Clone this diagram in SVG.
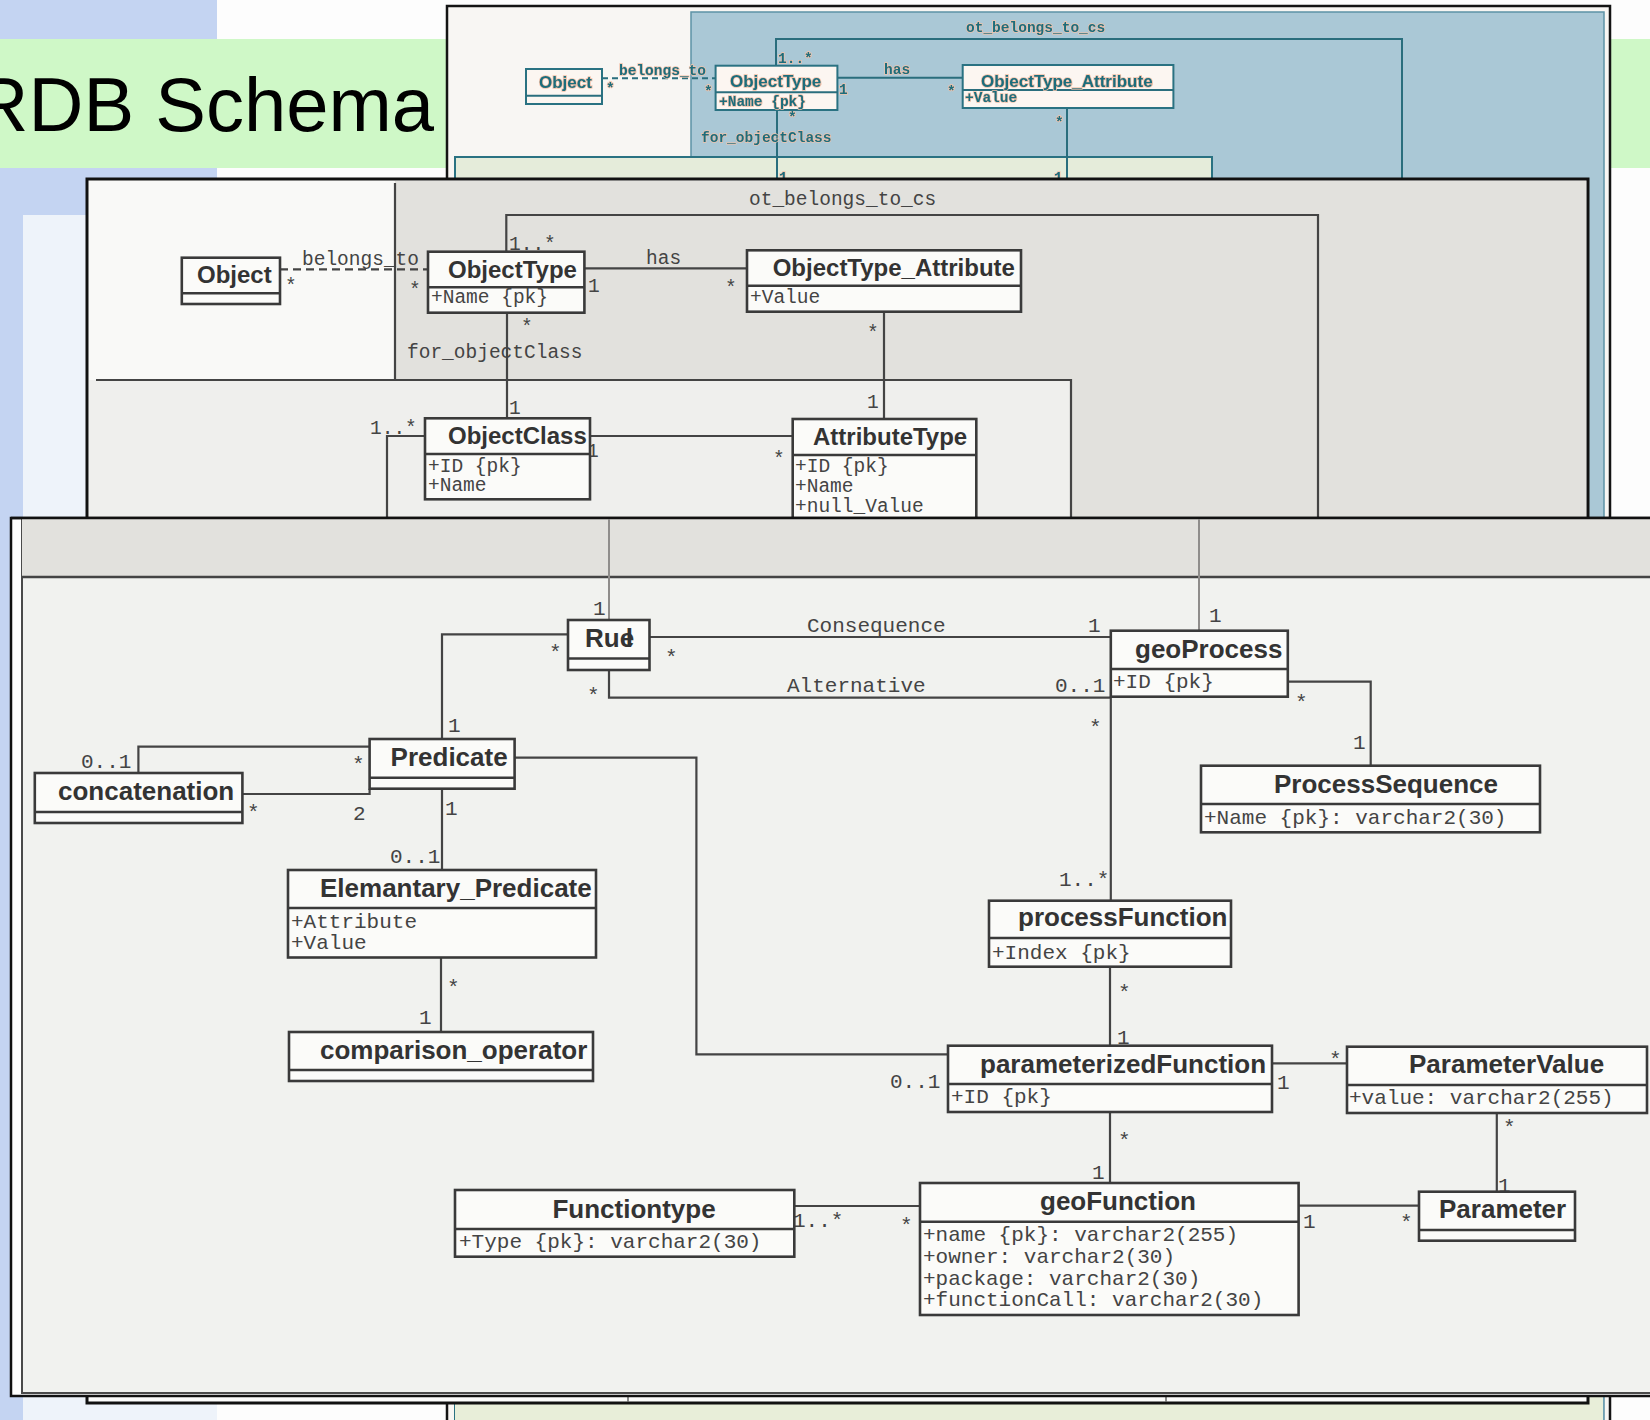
<svg xmlns="http://www.w3.org/2000/svg" width="1650" height="1420" viewBox="0 0 1650 1420">
<defs>
  <filter id="soft" x="-5%" y="-5%" width="110%" height="110%">
    <feGaussianBlur stdDeviation="0.6"/>
  </filter>
</defs>
<style>
  .bx{fill:#fbfbf9}
  .bd{fill:none;stroke:#3a3a3a;stroke-width:2.6}
  .dv{stroke:#3a3a3a;stroke-width:2.6}
  .tf{font-family:"Liberation Sans",Arial,sans-serif;font-weight:bold;font-size:26px;fill:#333}
  .tm{font-family:"Liberation Sans",Arial,sans-serif;font-weight:bold;font-size:24px;fill:#333}
  .mf{font-family:"Liberation Mono","Courier New",monospace;font-size:21px;fill:#444}
  .mm{font-family:"Liberation Mono","Courier New",monospace;font-size:19.5px;fill:#444}
  .cn{fill:none;stroke:#444;stroke-width:2.2}
  .cg{fill:none;stroke:#8f8d8b;stroke-width:2}
  .dash{stroke-dasharray:8 5}
  .bkbox{fill:#fcf6f1;stroke:#2c7282;stroke-width:2}
  .bkln{fill:none;stroke:#2a6e7d;stroke-width:2}
  .bkt{font-family:"Liberation Sans",Arial,sans-serif;font-weight:bold;font-size:17px;fill:#1f6d7c;stroke:#f3c2aa;stroke-width:1.6;paint-order:stroke}
  .bkm{font-family:"Liberation Mono","Courier New",monospace;font-weight:bold;font-size:14.5px;fill:#1f6d7c;stroke:#f3c2aa;stroke-width:1.4;paint-order:stroke}
</style>

<!-- page background -->
<rect x="0" y="0" width="1650" height="1420" fill="#fdfdfd"/>
<rect x="0" y="0" width="217" height="215" fill="#c4d4f2"/>
<rect x="0" y="0" width="23" height="1420" fill="#c4d4f2"/>
<rect x="23" y="215" width="194" height="1205" fill="#eef3fa"/>
<rect x="0" y="39" width="1650" height="129" fill="#cff8c7"/>
<text x="434" y="131" text-anchor="end" font-family="'Liberation Sans',Arial,sans-serif" font-size="76" fill="#000">RDB Schema</text>

<!-- back window -->
<g id="back-window">
  <rect x="447" y="6" width="1163" height="1430" fill="#f8f6f3" stroke="#141414" stroke-width="2.5"/>
  <g filter="url(#soft)">
    <rect x="691" y="12" width="913" height="1420" fill="#aac8d6" stroke="#5d93a6" stroke-width="1.5"/>
    <rect x="455" y="157" width="757" height="1300" fill="#e5ecda" stroke="#2c7282" stroke-width="2"/>
    <rect x="455" y="1380" width="1148" height="60" fill="#e8eed9"/>
    <g id="back-connectors">
      <path class="bkln" d="M602,78.3 H715.6" stroke-dasharray="6 4"/>
      <path class="bkln" d="M837.4,77.7 H962.7"/>
      <path class="bkln" d="M776,65.7 V39 H1402 V190"/>
      <path class="bkln" d="M777,110 V190"/>
      <path class="bkln" d="M1067,108 V190"/>
      <text class="bkm" x="966" y="32">ot_belongs_to_cs</text>
      <text class="bkm" x="778" y="63">1..*</text>
      <text class="bkm" x="619" y="75">belongs_to</text>
      <text class="bkm" x="606" y="93">*</text>
      <text class="bkm" x="704" y="96">*</text>
      <text class="bkm" x="884" y="74">has</text>
      <text class="bkm" x="839" y="94">1</text>
      <text class="bkm" x="947" y="96">*</text>
      <text class="bkm" x="788" y="122">*</text>
      <text class="bkm" x="701" y="142">for_objectClass</text>
      <text class="bkm" x="1055" y="127">*</text>
      <text class="bkm" x="779" y="182">1</text>
      <text class="bkm" x="1054" y="182">1</text>
    </g>
    <g id="back-object">
      <rect class="bkbox" x="526" y="69" width="76" height="35"/>
      <line class="bkln" x1="526" y1="95.7" x2="602" y2="95.7"/>
      <text class="bkt" x="539" y="88">Object</text>
    </g>
    <g id="back-objecttype">
      <rect class="bkbox" x="715.6" y="65.7" width="121.8" height="44.3"/>
      <line class="bkln" x1="715.6" y1="92.3" x2="837.4" y2="92.3"/>
      <text class="bkt" x="730" y="87">ObjectType</text>
      <text class="bkm" x="719" y="106">+Name {pk}</text>
    </g>
    <g id="back-objecttype-attribute">
      <rect class="bkbox" x="962.7" y="65" width="210.7" height="43"/>
      <line class="bkln" x1="962.7" y1="90" x2="1173.4" y2="90"/>
      <text class="bkt" x="981" y="86.5">ObjectType_Attribute</text>
      <text class="bkm" x="965" y="102">+Value</text>
    </g>
  </g>
</g>

<!-- middle window -->
<g id="middle-window">
  <rect x="87" y="179" width="1501" height="1224" fill="#fcfcfb" stroke="#111" stroke-width="3"/>
  <rect x="89" y="181" width="306" height="199" fill="#f9f9f7"/>
  <path d="M395,181 H1586 V1395 H1071 V380 H395 Z" fill="#e2e1dd"/>
  <rect x="89" y="380" width="982" height="1015" fill="#efefed"/>
  <path class="cn" d="M395,183 V380 M96,380 H1071 V1395"/>
  <path d="M628,1390 V1402 M1166,1390 V1402" stroke="#666" stroke-width="1.5"/>

  <g id="middle-connectors">
    <path class="cn dash" d="M280,269.3 H428"/>
    <path class="cn" d="M584.4,268.3 H747"/>
    <path class="cn" d="M506.3,251.7 V215 H1318 V525"/>
    <path class="cn" d="M507,312.7 V418.3"/>
    <path class="cn" d="M884,311.7 V419"/>
    <path class="cn" d="M590,436 H792.7"/>
    <path class="cn" d="M425,436 H387 V525"/>
    <text class="mm" x="302" y="265">belongs_to</text>
    <text class="mm" x="285" y="292">*</text>
    <text class="mm" x="409" y="296">*</text>
    <text class="mm" x="646" y="264">has</text>
    <text class="mm" x="588" y="292">1</text>
    <text class="mm" x="725" y="294">*</text>
    <text class="mm" x="749" y="205">ot_belongs_to_cs</text>
    <text class="mm" x="509" y="250">1..*</text>
    <text class="mm" x="521" y="333">*</text>
    <text class="mm" x="407" y="358">for_objectClass</text>
    <text class="mm" x="509" y="414">1</text>
    <text class="mm" x="867" y="339">*</text>
    <text class="mm" x="867" y="408">1</text>
    <text class="mm" x="587" y="457">1</text>
    <text class="mm" x="773" y="465">*</text>
    <text class="mm" x="370" y="434">1..*</text>
  </g>

  <g id="object">
    <rect class="bx" x="181.8" y="257.7" width="98.2" height="46.3"/>
    <text class="tm" x="197" y="283">Object</text>
    <line class="dv" x1="181.8" y1="293.3" x2="280" y2="293.3"/>
    <rect class="bd" x="181.8" y="257.7" width="98.2" height="46.3"/>
  </g>
  <g id="objecttype">
    <rect class="bx" x="428" y="251.7" width="156.4" height="61"/>
    <text class="tm" x="448" y="278">ObjectType</text>
    <line class="dv" x1="428" y1="287.3" x2="584.4" y2="287.3"/>
    <text class="mm" x="431" y="303">+Name {pk}</text>
    <rect class="bd" x="428" y="251.7" width="156.4" height="61"/>
  </g>
  <g id="objecttype-attribute">
    <rect class="bx" x="747" y="250.3" width="274" height="61.4"/>
    <text class="tm" x="772.7" y="276">ObjectType_Attribute</text>
    <line class="dv" x1="747" y1="285.7" x2="1021" y2="285.7"/>
    <text class="mm" x="750" y="303">+Value</text>
    <rect class="bd" x="747" y="250.3" width="274" height="61.4"/>
  </g>
  <g id="objectclass">
    <rect class="bx" x="425" y="418.3" width="165" height="81"/>
    <text class="tm" x="448" y="444">ObjectClass</text>
    <line class="dv" x1="425" y1="454" x2="590" y2="454"/>
    <text class="mm" x="428" y="472">+ID {pk}</text>
    <text class="mm" x="428" y="491">+Name</text>
    <rect class="bd" x="425" y="418.3" width="165" height="81"/>
  </g>
  <g id="attributetype">
    <rect class="bx" x="792.7" y="419" width="183.6" height="130"/>
    <text class="tm" x="813" y="445">AttributeType</text>
    <line class="dv" x1="792.7" y1="455" x2="976.3" y2="455"/>
    <text class="mm" x="795" y="472">+ID {pk}</text>
    <text class="mm" x="795" y="492">+Name</text>
    <text class="mm" x="795" y="512">+null_Value</text>
    <rect class="bd" x="792.7" y="419" width="183.6" height="130"/>
  </g>
</g>

<!-- front window -->
<g id="front-window">
  <rect x="11" y="518" width="1700" height="878" fill="#ffffff" stroke="#111" stroke-width="2.5"/>
  <rect x="22" y="519" width="1700" height="874" fill="#f1f2ef" stroke="#4a4a4a" stroke-width="2"/>
  <rect x="22" y="519" width="1700" height="58" fill="#e2e1dd"/>
  <line x1="22" y1="577" x2="1650" y2="577" stroke="#444" stroke-width="2.5"/>
  <line x1="11" y1="518" x2="1650" y2="518" stroke="#111" stroke-width="2.5"/>

  <g id="front-connectors">
    <path class="cg" d="M609,519 V620"/>
    <path class="cg" d="M1199,519 V630.7"/>
    <path class="cn" d="M649.5,637 H1110.8"/>
    <path class="cn" d="M609,670 V697.7 H1110.8"/>
    <path class="cn" d="M1110.8,696.7 V900.7"/>
    <path class="cn" d="M1287.7,681.7 H1370.7 V765.7"/>
    <path class="cn" d="M568,634.3 H442 V739"/>
    <path class="cn" d="M138.4,773 V746.7 H369.6"/>
    <path class="cn" d="M242.4,794 H369.6 V788.7"/>
    <path class="cn" d="M442,788.7 V870"/>
    <path class="cn" d="M441,957.5 V1032"/>
    <path class="cn" d="M514.7,757.7 H696.4 V1054.3 H948"/>
    <path class="cn" d="M1110,966.7 V1045.7"/>
    <path class="cn" d="M1272,1063.3 H1347"/>
    <path class="cn" d="M1110,1112 V1183"/>
    <path class="cn" d="M1298.6,1205.7 H1419"/>
    <path class="cn" d="M1496.8,1113 V1191.7"/>
    <path class="cn" d="M794.3,1206 H920"/>

    <text class="mf" x="593" y="615">1</text>
    <text class="mf" x="1209" y="622">1</text>
    <text class="mf" x="807" y="632">Consequence</text>
    <text class="mf" x="1088" y="632">1</text>
    <text class="mf" x="665" y="664">*</text>
    <text class="mf" x="787" y="692">Alternative</text>
    <text class="mf" x="1055" y="692">0..1</text>
    <text class="mf" x="587" y="702">*</text>
    <text class="mf" x="1089" y="734">*</text>
    <text class="mf" x="1295" y="709">*</text>
    <text class="mf" x="1353" y="749">1</text>
    <text class="mf" x="1059" y="886">1..*</text>
    <text class="mf" x="549" y="659">*</text>
    <text class="mf" x="448" y="732">1</text>
    <text class="mf" x="81" y="768">0..1</text>
    <text class="mf" x="352" y="771">*</text>
    <text class="mf" x="247" y="819">*</text>
    <text class="mf" x="353" y="820">2</text>
    <text class="mf" x="445" y="815">1</text>
    <text class="mf" x="390" y="863">0..1</text>
    <text class="mf" x="447" y="994">*</text>
    <text class="mf" x="419" y="1024">1</text>
    <text class="mf" x="890" y="1088">0..1</text>
    <text class="mf" x="1118" y="999">*</text>
    <text class="mf" x="1117" y="1044">1</text>
    <text class="mf" x="1329" y="1066">*</text>
    <text class="mf" x="1277" y="1089">1</text>
    <text class="mf" x="1118" y="1147">*</text>
    <text class="mf" x="1092" y="1179">1</text>
    <text class="mf" x="1303" y="1228">1</text>
    <text class="mf" x="1400" y="1229">*</text>
    <text class="mf" x="1503" y="1134">*</text>
    <text class="mf" x="1498" y="1192">1</text>
    <text class="mf" x="793" y="1227">1..*</text>
    <text class="mf" x="900" y="1232">*</text>
  </g>

  <g id="rule">
    <rect class="bx" x="568" y="620" width="81.5" height="50"/>
    <text class="tf" x="585" y="647">Ru<tspan dx="6">l</tspan><tspan dx="-13.2">e</tspan></text>
    <line class="dv" x1="568" y1="658.5" x2="649.5" y2="658.5"/>
    <rect class="bd" x="568" y="620" width="81.5" height="50"/>
  </g>
  <g id="predicate">
    <rect class="bx" x="369.6" y="739" width="145" height="49.7"/>
    <text class="tf" x="390.6" y="766">Predicate</text>
    <line class="dv" x1="369.6" y1="777.7" x2="514.6" y2="777.7"/>
    <rect class="bd" x="369.6" y="739" width="145" height="49.7"/>
  </g>
  <g id="concatenation">
    <rect class="bx" x="34.8" y="773" width="207.6" height="50"/>
    <text class="tf" x="58" y="800">concatenation</text>
    <line class="dv" x1="34.8" y1="812" x2="242.4" y2="812"/>
    <rect class="bd" x="34.8" y="773" width="207.6" height="50"/>
  </g>
  <g id="elemantary-predicate">
    <rect class="bx" x="288" y="870" width="308" height="87.5"/>
    <text class="tf" x="320" y="897">Elemantary_Predicate</text>
    <line class="dv" x1="288" y1="908" x2="596" y2="908"/>
    <text class="mf" x="291" y="928">+Attribute</text>
    <text class="mf" x="291" y="949">+Value</text>
    <rect class="bd" x="288" y="870" width="308" height="87.5"/>
  </g>
  <g id="comparison-operator">
    <rect class="bx" x="289" y="1032" width="304" height="49"/>
    <text class="tf" x="320" y="1059">comparison_operator</text>
    <line class="dv" x1="289" y1="1070" x2="593" y2="1070"/>
    <rect class="bd" x="289" y="1032" width="304" height="49"/>
  </g>
  <g id="functiontype">
    <rect class="bx" x="455" y="1190" width="339.3" height="66.7"/>
    <text class="tf" x="634" y="1218" text-anchor="middle">Functiontype</text>
    <line class="dv" x1="455" y1="1229" x2="794.3" y2="1229"/>
    <text class="mf" x="459" y="1248">+Type {pk}: varchar2(30)</text>
    <rect class="bd" x="455" y="1190" width="339.3" height="66.7"/>
  </g>
  <g id="geoprocess">
    <rect class="bx" x="1110.8" y="630.7" width="177" height="66"/>
    <text class="tf" x="1135" y="658">geoProcess</text>
    <line class="dv" x1="1110.8" y1="669" x2="1287.8" y2="669"/>
    <text class="mf" x="1113" y="688">+ID {pk}</text>
    <rect class="bd" x="1110.8" y="630.7" width="177" height="66"/>
  </g>
  <g id="processsequence">
    <rect class="bx" x="1201" y="765.7" width="339" height="66.6"/>
    <text class="tf" x="1274" y="793">ProcessSequence</text>
    <line class="dv" x1="1201" y1="804" x2="1540" y2="804"/>
    <text class="mf" x="1204" y="824">+Name {pk}: varchar2(30)</text>
    <rect class="bd" x="1201" y="765.7" width="339" height="66.6"/>
  </g>
  <g id="processfunction">
    <rect class="bx" x="989" y="900.7" width="242" height="66"/>
    <text class="tf" x="1018" y="926">processFunction</text>
    <line class="dv" x1="989" y1="938" x2="1231" y2="938"/>
    <text class="mf" x="992" y="959">+Index {pk}</text>
    <rect class="bd" x="989" y="900.7" width="242" height="66"/>
  </g>
  <g id="parameterizedfunction">
    <rect class="bx" x="948" y="1045.7" width="324" height="66.3"/>
    <text class="tf" x="980" y="1073">parameterizedFunction</text>
    <line class="dv" x1="948" y1="1084" x2="1272" y2="1084"/>
    <text class="mf" x="951" y="1103">+ID {pk}</text>
    <rect class="bd" x="948" y="1045.7" width="324" height="66.3"/>
  </g>
  <g id="parametervalue">
    <rect class="bx" x="1347" y="1046.7" width="300" height="66.3"/>
    <text class="tf" x="1409" y="1073">ParameterValue</text>
    <line class="dv" x1="1347" y1="1085" x2="1647" y2="1085"/>
    <text class="mf" x="1349" y="1104">+value: varchar2(255)</text>
    <rect class="bd" x="1347" y="1046.7" width="300" height="66.3"/>
  </g>
  <g id="geofunction">
    <rect class="bx" x="920" y="1183" width="378.6" height="132"/>
    <text class="tf" x="1118" y="1210" text-anchor="middle">geoFunction</text>
    <line class="dv" x1="920" y1="1221.7" x2="1298.6" y2="1221.7"/>
    <text class="mf" x="923" y="1241">+name {pk}: varchar2(255)</text>
    <text class="mf" x="923" y="1263">+owner: varchar2(30)</text>
    <text class="mf" x="923" y="1285">+package: varchar2(30)</text>
    <text class="mf" x="923" y="1306">+functionCall: varchar2(30)</text>
    <rect class="bd" x="920" y="1183" width="378.6" height="132"/>
  </g>
  <g id="parameter">
    <rect class="bx" x="1419" y="1191.7" width="156" height="49"/>
    <text class="tf" x="1439" y="1218">Parameter</text>
    <line class="dv" x1="1419" y1="1230" x2="1575" y2="1230"/>
    <rect class="bd" x="1419" y="1191.7" width="156" height="49"/>
  </g>
</g>
</svg>
